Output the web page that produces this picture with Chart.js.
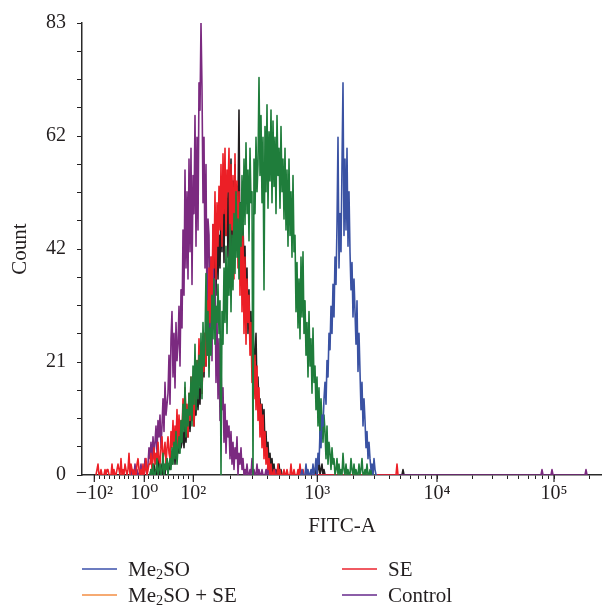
<!DOCTYPE html>
<html>
<head>
<meta charset="utf-8">
<title>FITC-A histogram</title>
<script src="https://cdn.jsdelivr.net/npm/chart.js@4.4.1/dist/chart.umd.min.js"></script>
<style>
  body { margin: 0; background: #fff; overflow: hidden; }
  #wrap { position: relative; width: 602px; height: 605px; }
  #legend { position: absolute; left: 0; top: 0; width: 602px; height: 605px; pointer-events: none;
    font-family: "Liberation Serif", "DejaVu Serif", serif; font-size: 21px; color: #231f20; }
  .lg-line { position: absolute; width: 35px; height: 2px; }
  .lg-text { position: absolute; line-height: 24px; white-space: nowrap; }
  .lg-text sub { font-size: 0.68em; vertical-align: -0.22em; line-height: 0; }
</style>
</head>
<body>
<div id="wrap">
  <canvas id="histo" width="602" height="605"></canvas>
  <div id="legend"></div>
</div>
<script>
// x = display channel of the biexponential FITC-A axis (0..520), y = event count
var channelMax = 520;
var yMax = 83;

// axis labels
var majorTicks = [-100, 1, 100, 1000, 10000, 100000];
var majorLabels = ['\u221210\u00b2', '10\u2070', '10\u00b2', '10\u00b3', '10\u2074', '10\u2075'];

// Me2SO (blue)
var meSoStart = 218;
var meSoCounts = [0,0,1,0,0,0,2,0,1,0,0,1,0,2,0,
  1,3,0,4,2, 8,5,11,9,14, 17,13,21,18,26, 23,31,26,35,29,
  40,35,46,62,38, 48,41,57,72,44, 58,45,60,42,52, 41,34,39,29,36,
  30,24,32,19,26, 19,12,17,9,14, 10,5,8,3,6, 3,1,2,0,3,1,0,0];

// unlabelled green trace
var otherStart = 68;
var otherCounts = [0,1,0,2,0,0,1,3,0,1,2,0,1,4,0,2,1,3,0,2,
  3,1,5,2,6,3,8,2,5,7, 4,10,6,13,8,17,7,12,9,15, 11,18,9,20,13,24,12,21,14,22,
  16,26,14,28,20,25, 37, 22,30,18, 27,22,33,25,36,24,31,28,35,26,32, 0,
  30,24,38,28,42,26,40,33,46,30, 44,34,48,37,52,40,47,36,50,42,
  55,44,58,46,61,48,56,43,60,50,52, 0, 58,48,62,52,57, 73, 55,66,50,62, 34,
  64,52,68,49,63,54,67,50,65,53,62,48,66,55,60,49,64,52,58,47,
  60,45,56,42,58,44,52,40,55,41, 44,30,39,27,36,25,40,29,41,26,
  32,22,28,18,30,20,25,15,27,17, 20,12,18,9,16,7,14,10,6,11, 8,3,9,2,6,4,1,5,2,3,
  0,1,3,0,2,0,1,0,4,1,0,2,0,1,0,0,3,1,0,2,0,1,0,0,2,0,1,3,0,0,1,0,2,0,0,1,0,1,0,0,0];

// SE (red)
var seStart = 14;
var seCounts = [0,1,2,0,0,1,0,0,0,1, 0,1,1,0,0,0,2,0,1,0, 0,1,2,1,0,3,0,1,0,2,
  1,0,1,4,0,2,1,0,1,0, 0,2,3,1,0,1,0,2,0,1, 3,0,1,2,
  2,4,1,3,5,2,4,1,6,3,2,5,7,3,4,6,2,5,7,4,
  3,8,5,10,4,9,6,12,5,11,7,10, 8,14,9,16,11,13,7,15,10,18,12,16,9,
  17,14,21,16,25,18,23,15,22,19, 26,20,32,24,38,28,40,
  33,46,38,52,36,50,42,53, 45,57,42,59,48,60,44,56, 52,60,40,57,45,55,36,59,42,54,
  38,52,33,48, 30,44,26,40,24,36,28,33, 22,28,17,25,14,22,12,20, 10,16,7,13,5,11,3,8,
  2,5,1,3,0,2,
  0,0,1,0,0,0,2,0,1,0,0,0,1,0,0,1,0,0,0,2,0,0,1,0,0,0,1,0,2,0,0,1,0,0,0,1,0,0,0];
var seTailBins = [314, 315, 316];
var seTailCounts = [0, 2, 0];

// Control (purple)
var controlStart = 48;
var controlCounts = [0,0,1,0,0,2,0,1,0,0,1,2,0,1,0,3,1,0,
  2,5,3,6,2,7,4, 6,9,4,10,7,11,5, 9,14,8,17,11,13, 15,22,13,25,
  30,18,26,16,28,21, 24,31,20,34,27, 45,33,56,38,52, 36,58,41,60,35,55,
  48,66,42,62,45,72, 67,83,71, 50,62,38,57,29,47, 44,26,40,21,46,30,36,17,
  29,14,25,10,20,12, 16,6,13,4,10,7,9,3, 8,2,6,1,5,3,7,0,4,2,5,1,3,
  0,1,0,2,0,0,1,0,3,0,1,0,0,2,0,1,0,0,1,0,0,0,1,0,2,0,0,1,0,0,0,1,0];
var controlTailBins = [459, 460, 461, 469, 470, 471, 503, 504, 505];
var controlTailCounts = [0, 1, 0, 0, 1, 0, 0, 1, 0];

// Me2SO + SE (black in the plot)
var meSoSeStart = 68;
var meSoSeCounts = [0,1,0,0,2,0,1,0,1,3,0,1,2,0,1,0,2,3,1,2,
  1,4,2,3,6,2,5,3,7,4,8,5,6,8,5, 9,6,11,7,13,8,12,10,15,9,14,11,17,12,16,
  13,20,15,24,18,26,20,30,22,28, 25,36,28,42,30,45,33,48,36,44,
  38,50,41,53,39,56,44,52,40,55, 46,58,42,54,48,57,44,53,50, 67,
  40,50,36,46,38, 42,30,38,26,34,24,30,21,28,22, 21,26,15,18,12,14,10,13,9,12,
  5,8,3,6,2,4,1,3,0,2, 0,1,0,0,2,0,1,0,0,0];
var meSoSeTailBins = [233, 234, 235, 236, 237, 238, 239, 240, 241, 242, 243, 320, 321, 322];
var meSoSeTailCounts = [0, 2, 0, 1, 3, 0, 1, 2, 0, 1, 0, 0, 1, 0];

var legendNames = ['Me\u2082SO', 'Me\u2082SO + SE', 'SE', 'Control'];
var legendColors = ['#6c7cc0', '#f6aa72', '#f05a62', '#8c5ea8'];

// biexponential display: linear between -100 and 100, log decades above
var LIN_CENTER = 61.8, LIN_SLOPE = 0.495, DECADE_START = 111.3;
var DECADE_WIDTHS = [124, 119.7, 117, 117];
function toChannel(v) {
    if (v <= 100) return LIN_CENTER + v * LIN_SLOPE;
    var c = DECADE_START, lg = Math.log10(v) - 2, d = 0;
    while (lg > 1) { c += DECADE_WIDTHS[d]; lg -= 1; d++; }
    return c + lg * DECADE_WIDTHS[d];
}

// minor ticks
var minorTicks = [];
for (var v = -90; v <= 90; v += 10) { if (v != 0) minorTicks.push(v); }
[100, 1000, 10000].forEach(function (dec) {
    for (var k = 2; k <= 9; k++) minorTicks.push(k * dec);
});
minorTicks.push(200000);

function toPoints(start, counts, tailBins, tailCounts) {
    var pts = counts.map(function (c, i) { return {x: start + i, y: c}; });
    (tailBins || []).forEach(function (b, i) { pts.push({x: b, y: tailCounts[i]}); });
    return pts;
}

function line(label, color, pts) {
    return {
        label: label, data: pts, borderColor: color, backgroundColor: color,
        borderWidth: 1.6, pointRadius: 0, fill: false, tension: 0, borderJoinStyle: 'round'
    };
}

// first dataset is drawn on top
var datasets = [
    line('Me\u2082SO', '#3a52a3', toPoints(meSoStart, meSoCounts)),
    line('Unlabelled', '#1f7d3b', toPoints(otherStart, otherCounts)),
    line('SE', '#ec1f26', toPoints(seStart, seCounts, seTailBins, seTailCounts)),
    line('Control', '#7b2a80', toPoints(controlStart, controlCounts, controlTailBins, controlTailCounts)),
    line('Me\u2082SO + SE', '#231f20', toPoints(meSoSeStart, meSoSeCounts, meSoSeTailBins, meSoSeTailCounts))
];

var allXTicks = majorTicks.concat(minorTicks).sort(function (a, b) { return a - b; });

// longer marks for the labelled decades
var majorTickPlugin = {
    id: 'majorTickMarks',
    afterDraw: function (chart) {
        var xs = chart.scales.x, ctx = chart.ctx;
        ctx.save();
        ctx.strokeStyle = '#231f20';
        ctx.lineWidth = 1.2;
        majorTicks.forEach(function (v) {
            var px = xs.getPixelForValue(toChannel(v));
            ctx.beginPath();
            ctx.moveTo(px, xs.top);
            ctx.lineTo(px, xs.top + 7);
            ctx.stroke();
        });
        ctx.restore();
    }
};

Chart.defaults.font.family = '"Liberation Serif", "DejaVu Serif", serif';
Chart.defaults.color = '#231f20';

new Chart(document.getElementById('histo'), {
    type: 'line',
    data: { datasets: datasets },
    options: {
        responsive: false,
        animation: false,
        layout: { padding: { top: 22, right: 0, left: 0, bottom: 0 } },
        plugins: { legend: { display: false }, tooltip: { enabled: false } },
        scales: {
            x: {
                type: 'linear', min: 0, max: channelMax, z: 1,
                afterFit: function (scale) { scale.height = 130; },
                afterBuildTicks: function (scale) {
                    scale.ticks = allXTicks.map(function (v) { return {value: toChannel(v)}; });
                },
                ticks: {
                    autoSkip: false, maxRotation: 0, padding: 3,
                    font: { size: 20 },
                    callback: function (value, index) {
                        var i = majorTicks.indexOf(allXTicks[index]);
                        return i >= 0 ? majorLabels[i] : '';
                    }
                },
                grid: { drawOnChartArea: false, tickLength: 4, tickWidth: 1, tickColor: '#231f20' },
                border: { color: '#2a2a2a', width: 1.5 },
                title: { display: true, text: 'FITC-A', font: { size: 21 }, padding: { top: 0, bottom: 66 } }
            },
            y: {
                min: 0, max: yMax, z: 1,
                afterFit: function (scale) { scale.width = 82; },
                afterBuildTicks: function (scale) {
                    var t = [];
                    for (var i = 0; i <= 16; i++) t.push({value: yMax * i / 16});
                    scale.ticks = t;
                },
                ticks: {
                    padding: 11, font: { size: 20 },
                    callback: function (value, index) { return index % 4 === 0 ? String(Math.round(value)) : ''; }
                },
                grid: { drawOnChartArea: false, tickLength: 5, tickWidth: 1, tickColor: '#231f20' },
                border: { color: '#2a2a2a', width: 1.5 },
                title: { display: true, text: 'Count', font: { size: 21 }, padding: { top: 8, bottom: 0 } }
            }
        }
    },
    plugins: [majorTickPlugin]
});

// legend: two columns, two rows
var legendEl = document.getElementById('legend');
legendNames.forEach(function (name, i) {
    var col = Math.floor(i / 2), row = i % 2;
    var left = 82 + col * 260, mid = 569 + row * 26;
    var ln = document.createElement('div');
    ln.className = 'lg-line';
    ln.style.left = left + 'px';
    ln.style.top = (mid - 1) + 'px';
    ln.style.background = legendColors[i];
    legendEl.appendChild(ln);
    var tx = document.createElement('div');
    tx.className = 'lg-text';
    tx.style.left = (left + 46) + 'px';
    tx.style.top = (mid - 12) + 'px';
    tx.innerHTML = name.replace('\u2082', '<sub>2</sub>');
    legendEl.appendChild(tx);
});
</script>
</body>
</html>
